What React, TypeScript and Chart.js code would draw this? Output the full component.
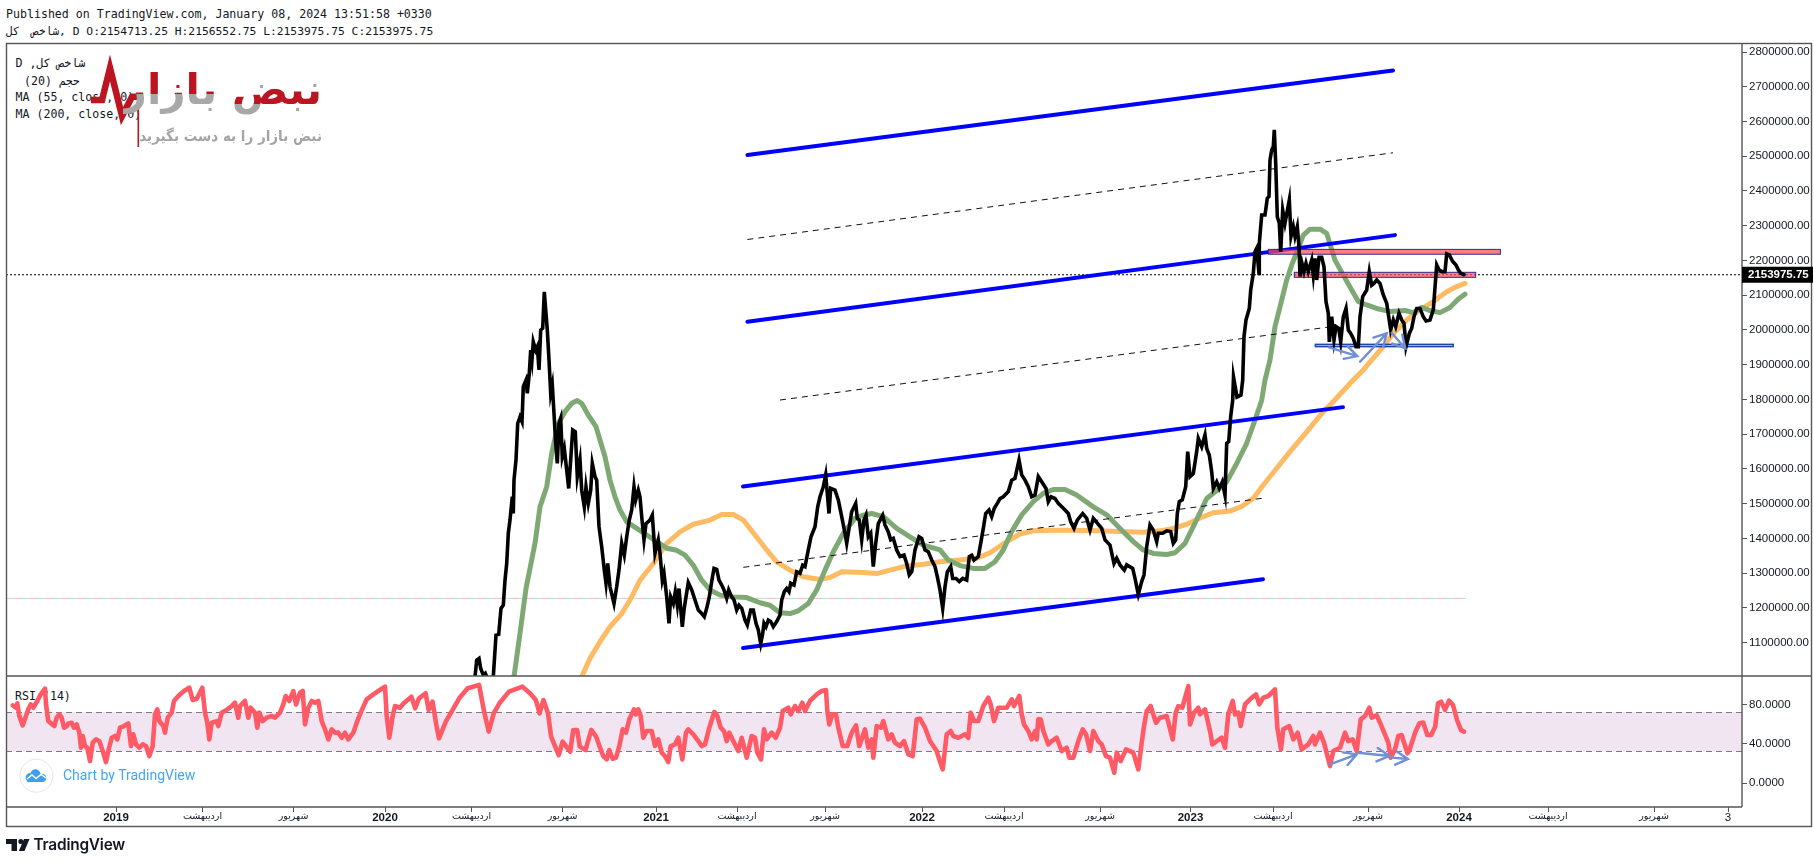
import React, { useEffect, useRef } from "react";
import { Chart, registerables } from "chart.js";

Chart.register(...registerables);

// x = trading session counted from the first bar of 2019; y = index level in thousands
const closeSeries: number[][] = [
[355,959],[359,997],[360.7,1045],[363,1050],[364.7,1021],[367.3,1002],[369.3,1007],[370.7,997],[372.5,985],[376,975],[377.3,997],[380,1117],[382.7,1119],[385,1194],[387.3,1203],[389,1275],[390.7,1323],[392.3,1410],[394,1448],[396.3,1515],[397.3,1467],[398,1563],[400,1621],[401.7,1726],[404,1745],[406,1731],[407.3,1832],[410,1851],[411.3,1813],[413.3,1870],[414.7,1937],[416,1909],[417.3,1961],[419.7,1937],[421.3,1947],[423,1880],[424.7,1995],[426.7,2000],[428.3,2105],[430,2043],[431.3,1995],[433,1909],[434.7,1813],[436.3,1837],[438,1755],[439.7,1669],[441.3,1611],[443,1726],[444.7,1741],[446.3,1630],[448.3,1654],[450.7,1592],[452.7,1539],[454.7,1621],[456.7,1707],[459.3,1702],[461.3,1573],[464,1621],[465.7,1534],[468.3,1486],[470,1544],[472.3,1496],[474.7,1534],[476.3,1611],[479,1573],[480.7,1563],[483,1429],[485.7,1371],[488.3,1304],[490,1266],[491.7,1323],[494,1256],[498,1208],[500.7,1256],[503,1304],[505.7,1381],[508.3,1347],[510.7,1400],[513.3,1448],[515.7,1477],[518,1544],[519.7,1506],[522.3,1534],[524,1515],[525.7,1458],[528,1391],[530,1438],[534,1448],[536.3,1462],[539,1352],[542.3,1391],[544,1352],[546.3,1275],[548,1295],[550.7,1227],[553,1151],[554.7,1227],[557.3,1208],[559.3,1242],[561.3,1203],[563,1251],[566.3,1141],[568,1189],[570,1227],[572.3,1268],[575.7,1247],[579,1218],[582.3,1189],[585.7,1179],[588.3,1170],[590.7,1194],[593.3,1227],[595.7,1271],[598,1309],[600.7,1306],[603,1275],[605.7,1261],[608,1247],[610.7,1223],[612.7,1247],[615.7,1227],[618,1218],[620.7,1189],[623,1203],[625.7,1194],[629,1160],[631.3,1146],[634.7,1189],[637.3,1189],[640,1151],[642.3,1132],[644.7,1093],[646.7,1122],[648,1151],[650,1141],[652.3,1160],[654.7,1156],[657.3,1141],[660.7,1156],[664,1175],[665.7,1218],[668.3,1242],[670.7,1251],[673,1242],[674.7,1266],[678,1261],[680.7,1299],[684,1295],[686.7,1318],[689,1314],[692.3,1362],[695,1400],[699,1429],[701.7,1486],[704,1515],[707.3,1544],[709.7,1578],[711.3,1525],[713,1467],[714.7,1539],[719,1534],[722.3,1506],[725.7,1458],[729,1410],[730.7,1381],[733.3,1429],[735.7,1472],[739.7,1496],[741.3,1453],[743.3,1448],[745.7,1391],[748,1448],[750,1462],[752.3,1400],[754.7,1410],[757.3,1314],[759.7,1381],[762.3,1438],[766.7,1462],[769,1434],[772.3,1414],[774.7,1391],[777.3,1395],[780.7,1362],[784,1343],[788,1347],[790.7,1323],[793.3,1290],[795.7,1299],[799,1362],[803,1400],[805.7,1395],[809,1362],[812.3,1357],[815.7,1333],[819,1314],[821.3,1285],[824,1247],
[826.7,1194],[829,1256],[831.3,1299],[834.7,1314],[836.7,1280],[840,1280],[843.3,1271],[846.7,1280],[850.7,1275],[853.3,1343],[855.7,1347],[858,1333],[862.3,1343],[864.7,1381],[867.3,1424],[869.7,1467],[873,1477],[875.7,1458],[878.3,1482],[881.3,1496],[884,1510],[887.3,1515],[892.3,1530],[895.7,1563],[899,1568],[903,1621],[905.7,1578],[909,1563],[912.3,1544],[915.7,1515],[919,1520],[922.3,1573],[925.7,1558],[930,1539],[932.3,1501],[935,1515],[939,1510],[942.3,1496],[947.3,1482],[952.3,1467],[954.7,1443],[958,1424],[961.3,1448],[966.7,1467],[970.7,1453],[974,1419],[977.3,1453],[981.3,1439],[985.7,1424],[989,1391],[994,1376],[998,1323],[1000.7,1338],[1004,1319],[1008.3,1304],[1010.7,1319],[1016.7,1309],[1019,1280],[1022.3,1234],[1025.7,1271],[1028,1290],[1030.7,1371],[1034,1434],[1037.3,1419],[1040.7,1386],[1042.3,1410],[1046.7,1410],[1050.7,1417],[1054.7,1415],[1057.3,1381],[1059.7,1391],[1061.3,1467],[1063.3,1501],[1066.3,1506],[1069.7,1544],[1071.7,1645],[1074,1573],[1077.3,1582],[1080.7,1645],[1082.3,1683],[1085.7,1659],[1089,1693],[1090.7,1654],[1093.3,1635],[1095.7,1587],[1097.3,1539],[1100.7,1558],[1103.3,1539],[1106.3,1558],[1109,1520],[1110.7,1669],[1112.7,1674],[1114.7,1746],[1116.7,1793],[1117.5,1860],[1121,1802],[1125,1808],
[1126.7,1851],[1128,1976],[1130,2024],[1133.3,2057],[1134.7,2110],[1137.3,2158],[1139,2220],[1140.7,2230],[1143,2158],[1143.3,2244],[1145.7,2326],[1149,2326],[1151.3,2374],[1153,2379],[1154,2484],[1155.7,2513],[1157.3,2523],[1158.3,2571],[1159.7,2475],[1161.3,2321],[1163.3,2302],[1164.7,2220],[1166.7,2340],[1169,2302],[1173.3,2369],[1175,2264],[1177.3,2292],[1179,2264],[1181.3,2292],[1183,2235],[1184,2149],[1186,2187],[1188,2163],[1190,2187],[1192.3,2163],[1195.7,2196],[1197.3,2153],[1199,2201],[1200.7,2139],[1203,2204],[1205.7,2204],[1208,2177],[1210,2077],[1212.3,2043],[1213.3,1961],[1215.7,2033],[1218,1966],[1220,2005],[1222.7,2000],[1224.7,1961],[1227.3,2033],[1230,2057],[1232.3,1995],[1234.7,1985],[1237.3,1971],[1240,1947],[1242.3,1947],[1244,2033],[1246.7,2091],[1250.7,2110],[1253.3,2163],[1255.7,2124],[1258,2129],[1260.7,2139],[1264,2129],[1267.3,2096],[1270.7,2072],[1274.7,1995],[1277.3,2024],[1279.7,2005],[1283,2043],[1285.7,2024],[1288,2014],[1290,1947],[1293.3,1985],[1295.7,2000],[1298,2033],[1300.7,2057],[1304,2057],[1307.3,2033],[1310,2021],[1314,2024],[1317.3,2053],[1320.7,2182],[1323,2168],[1325.7,2163],[1329,2163],[1330.7,2214],[1333.3,2211],[1336.7,2192],[1340,2182],[1342.3,2168],[1344.7,2158],[1348,2153.98],
];

const ma55Series: number[][] = [
[396,980],[398,997],[404,1122],[410,1251],[419,1381],[424,1486],[430.7,1544],[435.7,1640],[442.3,1726],[449,1760],[455.7,1784],[461.3,1792],[465.7,1784],[472.3,1750],[480,1717],[484,1678],[489,1630],[494,1563],[499,1515],[504,1477],[510.7,1443],[520.7,1424],[530.7,1405],[540.7,1386],[550.7,1367],[560.7,1361],[569,1347],[577.3,1318],[585.7,1275],[594,1247],[604,1232],[617.3,1227],[630.7,1225],[644,1210],[654,1203],[664,1181],[674,1179],[682.3,1187],[692.3,1208],[700.7,1247],[709,1304],[717.3,1357],[727.3,1410],[739,1453],[747.3,1462],[755.7,1467],[767.3,1458],[780.7,1424],[794,1400],[807.3,1376],[824,1362],[832.3,1333],[844,1317],[857.3,1309],[869,1309],[879,1328],[887.3,1362],[895.7,1415],[905.7,1463],[917.3,1501],[927.3,1525],[937.3,1536],[949,1536],[960.7,1520],[977.3,1486],[990.7,1463],[1004,1424],[1017.3,1386],[1027.3,1362],[1037.3,1352],[1050.7,1349],[1059,1354],[1069,1381],[1079,1439],[1090.7,1510],[1100.7,1533],[1110.7,1558],[1120.7,1611],[1130.7,1669],[1139,1736],[1145.7,1793],[1149,1851],[1154,1909],[1159,2005],[1165.7,2081],[1170.7,2139],[1175.7,2182],[1182.3,2230],[1187.3,2268],[1194,2285],[1204,2285],[1210.7,2273],[1219,2196],[1227.3,2153],[1235.7,2110],[1242.3,2077],[1250.7,2067],[1260.7,2057],[1274,2048],[1289,2051],[1297.3,2045],[1305.7,2060],[1314,2051],[1324,2045],[1334,2060],[1342.3,2084],[1349,2098],
];

const ma200Series: number[][] = [
[463,975],[465.7,997],[474,1050],[484,1098],[494,1141],[505.7,1179],[514,1218],[524,1275],[537.3,1323],[550.7,1381],[564,1414],[577.3,1436],[594,1448],[605.7,1464],[617.3,1464],[627.3,1448],[639,1405],[650.7,1362],[660.7,1328],[674,1304],[687.3,1285],[704,1277],[714,1283],[725.7,1299],[747.3,1297],[760.7,1294],[774,1304],[790.7,1316],[807.3,1321],[824,1328],[844,1333],[860.7,1338],[874,1354],[890.7,1386],[904,1408],[917.3,1417],[934,1419],[957.3,1419],[980.7,1417],[1004,1415],[1027.3,1413],[1044,1417],[1057.3,1424],[1070.7,1436],[1087.3,1458],[1097.3,1469],[1114,1474],[1125.7,1487],[1137.3,1511],[1147.3,1549],[1160.7,1597],[1174,1645],[1190.7,1702],[1207.3,1760],[1215.7,1784],[1237.3,1851],[1247.3,1880],[1257.3,1914],[1267.3,1947],[1277.3,1985],[1290.7,2024],[1304,2053],[1317.3,2077],[1330.7,2105],[1340.7,2120],[1349,2129],
];

const rsiSeries: number[][] = [
[-103.3,78.6],[-100,76.2],[-98.7,80.7],[-96.7,67.7],[-93.3,58.1],[-90,67.7],[-87.7,74.5],[-85.3,79.6],[-82.7,76.2],[-78.7,83.1],[-75.3,89.9],[-71,95.7],[-70,79.6],[-67.7,62.5],[-63.7,59.1],[-61.7,57.4],[-59.3,66],[-56.7,69.4],[-54.3,66],[-52,55.7],[-49.3,57.4],[-47.7,60.1],[-44.3,60.8],[-42,55.7],[-39.3,59.1],[-36.7,50.6],[-35,35.2],[-33.3,47.2],[-31,36.9],[-28.7,35.2],[-26,21.5],[-23.3,40.3],[-20,43.7],[-16.7,42],[-13.3,31.8],[-10,20.5],[-7.7,31.8],[-4.3,45.4],[-1,47.2],[1.3,43.7],[4,55.7],[8,57.4],[12.3,60.1],[15,36.9],[17.3,48.9],[20,38.6],[23.3,35.2],[26.7,38.6],[30,36.9],[33.3,26.6],[36.7,36.9],[39,69.4],[41.3,74.5],[43.3,62.5],[47.3,57.4],[49,50.6],[51.7,66],[55.7,71.1],[58,83.1],[62.3,88.2],[68,93.3],[73.3,96.7],[76.7,84.1],[80.7,85.4],[86.3,96.7],[89,71.1],[91.3,60.8],[93.3,43.7],[95.7,60.8],[100.7,62.5],[102.3,57.4],[105.7,71.1],[111.3,74.5],[115.7,77.9],[119,81.3],[122.3,66],[124,77.9],[129,83.1],[132.3,66],[134.7,76.2],[139,71.1],[141.3,55.7],[143.3,71.1],[146.7,62.5],[150.7,66],[155.7,67.7],[159,66],[164,71.1],[167.3,79.6],[169.7,88.2],[173.3,83.1],[177.3,93.3],[180,79.6],[184,91.6],[186.7,93.3],[189,59.1],[192.3,76.2],[195.7,83.1],[199,81.3],[202.3,83.1],[205.7,62.5],[209,54],[212.3,43.7],[215.7,54],[219,50.6],[222.3,50.6],[225.7,45.4],[229,50.6],[232.3,43.7],[237.3,50.6],[241.3,62.5],[244.7,71.1],[250.7,84.8],[257.3,89.9],[262.3,93.3],[269,97.8],[270.7,67.7],[273.3,45.4],[276.7,67.7],[279,77.9],[284,76.2],
[287.7,80.7],[295.4,87.5],[299.2,75.6],[303,85.8],[309.6,91],[312.6,73.9],[316.5,82.4],[320.3,58.5],[323,44.8],[329.8,61.9],[335.6,72.2],[343.2,85.8],[351.7,96.1],[363.1,99.5],[368.1,72.2],[372.7,51.7],[377.7,70.4],[383.4,80.7],[393,92.7],[406.4,97.8],[414,91],[419.8,84.1],[423.6,70.4],[427.4,84.1],[432,70.4],[435.1,46.5],[442.7,27.7],[446.6,41.4],[454.2,31.1],[457.3,53.4],[461.1,53.4],[463.8,36.3],[469.5,32.8],[475.3,53.4],[480.2,46.5],
[484,35.2],[487.3,26.6],[490.7,23.2],[493.3,32.8],[496.7,23.9],[500,24.9],[503.3,36.9],[506.7,54],[510,50.6],[513.3,64.3],[518,74.5],[520,69.4],[522.3,74.5],[524.7,67.7],[527.3,45.4],[530.7,52.3],[535.7,52.3],[539,36.9],[542.3,43.7],[545.7,30.1],[549,26.6],[552.3,20.5],[554.7,36.9],[559,38.6],[562.3,45.4],[566.3,23.2],[570,50.6],[572.3,54],[577.3,48.9],[582.3,42],[585.7,36.9],[589,38.6],[593.3,55.7],[598.3,71.8],[601.3,67.7],[604.7,55.7],[608,52.3],[610.7,42],[613.3,50.6],[617.3,42],[622.3,31.8],[625.7,45.4],[630.7,24.9],[635.7,47.2],[639,45.4],[641.3,30.1],[645,23.2],[648,54],[650.7,43.7],[655.7,50.6],[659.7,45.4],[664,55.7],[666.7,72.8],[672.3,76.2],[674.7,69.4],[679,77.9],[682.3,72.8],[686.3,81.3],[689,72.8],[694,83.1],[700.7,89.9],[705.7,93.3],[710,94.3],[711.3,72.8],[713.3,59.1],[716.3,69.4],[720,69.4],[722.3,55.7],[726.7,36.9],[731.3,36.9],[735.7,50.6],[740,58.1],[743.3,36.9],[749,54],[752.3,35.2],[755.7,43.7],[757.3,24.9],[760.7,57.4],[765,55.7],[767.3,62.5],[772.3,43.7],[775.7,48.9],[779,40.3],[784,36.9],[788,42],[792.3,28.4],[796.7,26.6],[800.7,64.3],[804,64.9],[809,55.7],[814,42],[820.7,31.8],[823.3,23.2],[826.7,13],[830.7,48.9],[834.7,52.3],[837.3,47.2],[842.3,45.4],[845.7,47.2],[849,48.9],[852.3,45.4],[854.7,71.1],[858,62.5],[862.3,62.5],[867.3,77.9],[872.3,86.5],[874.7,79.6],[878,62.5],[882.3,76.2],
[884,76.2],[890.7,76.2],[895.7,84.8],[898,77.9],[900.7,83.1],[903.3,88.2],[905.7,69.4],[908,59.1],[912.3,52.3],[915.7,43.7],[919,52.3],[920.7,43.7],[922.3,64.3],[924.7,64.3],[927.3,52.3],[932.3,38.6],[935.7,42],[940.7,45.4],[945.7,31.8],[950.7,35.2],[953.3,24.9],[957.3,24.9],[962.3,42],[966.7,54],[970,48.9],[974,31.8],[977.3,52.3],[982.3,42],[985.7,38.6],[990,26.6],[994,24.9],[998.3,9.5],[1000.7,30.1],[1004.7,21.5],[1010,33.5],[1017.3,30.1],[1022.3,13],[1025.7,40.3],[1028,57.4],[1030.7,72.8],[1034.7,77.9],[1036.7,71.1],[1040,60.8],[1044,66],[1050.7,67.7],[1056.7,43.7],[1059.7,71.1],[1062.3,77.9],[1066.3,76.2],[1072.3,98.4],[1074,59.1],[1078,71.1],[1082.3,76.2],[1084,69.4],[1089,74.5],[1094.7,48.9],[1096.3,38.6],[1105.7,45.4],[1109,35.2],[1112.3,69.4],[1116.7,83.1],[1119,69.4],[1122.3,71.1],[1124.7,57.4],[1129,79.6],[1134,84.8],[1140,89.9],[1143.3,79.6],[1147.3,86.5],[1152.3,88.2],[1159,95],[1161.3,55.7],[1165,33.5],[1167.3,54],[1173.3,57.4],[1177.3,43.7],[1181.7,50.6],[1185.7,33.5],[1192.3,38.6],[1197.3,47.2],[1199,38.6],[1204,50.6],[1208,40.3],[1214,16.4],[1217.3,31.8],[1224,35.2],[1229,50.6],[1232.3,42],[1236.7,43.7],[1240.7,31.8],[1244.7,64.3],[1249,67.7],[1253.3,76.2],[1255.7,66],[1260.7,68.4],[1264,60.8],[1272.3,40.3],[1274.7,24.9],[1279,33.5],[1282.3,47.2],
[1285.6,48.2],[1291.5,29.4],[1293.5,32.8],[1299.4,51.6],[1303.4,60.2],[1307.3,60.9],[1311.3,48.2],[1315.2,48.2],[1319.2,56.8],[1322,80.7],[1325.1,82.4],[1329.1,73.9],[1333,83.4],[1337,79],[1341,63.6],[1344.9,53.4],[1348,51.7],
];

const channelTop: number[][] = [[631.4,2498.6],[1277,2741.5]];
const channelUpperMid: number[][] = [[631.4,2019],[1279,2268]];
const channelLowerMid: number[][] = [[627,1544.8],[1227,1773]];
const channelBottom: number[][] = [[627,1079.7],[1147,1278]];
const dashedTop: number[][] = [[631.4,2255.4],[1277,2505]];
const dashedMid: number[][] = [[664,1793.5],[1213,2003.6]];
const dashedLow: number[][] = [[627.3,1312],[1145.7,1510.5]];
const lastCloseLine: number[][] = [[-110,2153.98],[1626,2153.98]];
const faintLevel: number[][] = [[-110,1222.7],[1350,1222.7]];

// [session start, session end, level low, level high]
const resistanceUpper = [1152.3, 1384.4, 2213, 2227];
const resistanceLower = [1178.3, 1359.7, 2146.6, 2161];
const supportZone = [1199.3, 1337.3, 1947, 1953.8];

// [session start, level start, session end, level end]
const priceArrows: number[][] = [
  [1213, 1945, 1241.3, 1920],
  [1244, 1903.7, 1270.7, 1985.4],
  [1275.7, 1987, 1289.3, 1942],
];
const rsiArrows: number[][] = [
  [1214, 18.1, 1240.7, 28.4],
  [1242.3, 30, 1273.3, 26.7],
  [1276, 25, 1292, 23.6],
];

const priceTicks = [2800,2700,2600,2500,2400,2300,2200,2100,2000,1900,1800,1700,1600,1500,1400,1300,1200,1100];
const rsiTicks = [80, 40, 0];
const rsiBand = [31.5, 71.5];
const timeTickSessions = [0,86.5,177.5,269,355.5,446.6,540,621,709,806,888,984,1074.5,1157,1252,1343,1432,1538,1612];
const timeTickLabels = ["2019","اردیبهشت","شهریور","2020","اردیبهشت","شهریور","2021","اردیبهشت","شهریور","2022","اردیبهشت","شهریور","2023","اردیبهشت","شهریور","2024","اردیبهشت","شهریور","3"];

// TradingView prints its axis labels slightly below the true level
const PRICE_LABEL_NUDGE = 5;
const RSI_LABEL_NUDGE = 1;

const LAST_CLOSE_LABEL = "2153975.75";
const BORDER = "#555555";

const pts = (s: number[][]) => s.map(([x, y]) => ({ x, y }));

function arrow(ctx: CanvasRenderingContext2D, x0: number, y0: number, x1: number, y1: number) {
  const a = Math.atan2(y1 - y0, x1 - x0);
  const h = 14;
  ctx.beginPath();
  ctx.moveTo(x0, y0);
  ctx.lineTo(x1, y1);
  ctx.moveTo(x1 - h * Math.cos(a - 0.5), y1 - h * Math.sin(a - 0.5));
  ctx.lineTo(x1, y1);
  ctx.lineTo(x1 - h * Math.cos(a + 0.5), y1 - h * Math.sin(a + 0.5));
  ctx.stroke();
}

const decorPlugin = {
  id: "decor",
  beforeDatasetsDraw(chart: any) {
    const { ctx, scales } = chart;
    const { x, yRsi } = scales;
    ctx.save();
    const top = yRsi.getPixelForValue(rsiBand[1]);
    const bottom = yRsi.getPixelForValue(rsiBand[0]);
    ctx.fillStyle = "#f0e5f1";
    ctx.fillRect(x.left, top, x.right - x.left, bottom - top);
    ctx.strokeStyle = "#787b86";
    ctx.lineWidth = 1;
    ctx.setLineDash([6, 4]);
    for (const v of [top, bottom]) {
      ctx.beginPath();
      ctx.moveTo(x.left, Math.round(v) + 0.5);
      ctx.lineTo(x.right, Math.round(v) + 0.5);
      ctx.stroke();
    }
    ctx.restore();
  },
  beforeDatasetDraw(chart: any, args: any) {
    if (chart.data.datasets[args.index].label !== "close") return;
    const { ctx, scales } = chart;
    const { x, y } = scales;
    ctx.save();
    const box = (r: number[], fill: string, stroke: string, lw: number) => {
      const l = x.getPixelForValue(r[0]);
      const w = x.getPixelForValue(r[1]) - l;
      const t = y.getPixelForValue(r[3]);
      const h = y.getPixelForValue(r[2]) - t;
      ctx.fillStyle = fill;
      ctx.fillRect(l, t, w, h);
      ctx.strokeStyle = stroke;
      ctx.lineWidth = lw;
      ctx.strokeRect(l, t, w, h);
    };
    box(resistanceUpper, "rgba(255,75,85,0.72)", "#2f2a8c", 1);
    box(resistanceLower, "rgba(255,75,85,0.72)", "#2f2a8c", 1);
    box(supportZone, "rgba(60,100,200,0.5)", "#1f45a8", 1.4);
    ctx.restore();
  },
  afterDatasetsDraw(chart: any) {
    const { ctx, scales } = chart;
    const { x, y, yRsi } = scales;
    ctx.save();
    ctx.strokeStyle = "#7090d5";
    ctx.lineWidth = 2.4;
    ctx.lineCap = "round";
    for (const a of priceArrows) {
      arrow(ctx, x.getPixelForValue(a[0]), y.getPixelForValue(a[1]), x.getPixelForValue(a[2]), y.getPixelForValue(a[3]));
    }
    for (const a of rsiArrows) {
      arrow(ctx, x.getPixelForValue(a[0]), yRsi.getPixelForValue(a[1]), x.getPixelForValue(a[2]), yRsi.getPixelForValue(a[3]));
    }
    ctx.restore();
  },
  afterDraw(chart: any) {
    const { ctx, scales } = chart;
    const { x, y, yRsi } = scales;
    ctx.save();
    // frame of the panes
    ctx.strokeStyle = BORDER;
    ctx.lineWidth = 1.4;
    ctx.strokeRect(6.5, 43.5, 1805, 783);
    ctx.beginPath();
    ctx.moveTo(6, yRsi.top); ctx.lineTo(x.right + 70, yRsi.top);
    ctx.moveTo(6, yRsi.bottom); ctx.lineTo(x.right, yRsi.bottom);
    ctx.moveTo(x.right, y.top); ctx.lineTo(x.right, yRsi.bottom);
    ctx.stroke();

    // last price label
    const py = y.getPixelForValue(2153.98);
    ctx.fillStyle = "#000000";
    ctx.fillRect(x.right, py - 8, 71, 16);
    ctx.fillStyle = "#ffffff";
    ctx.font = "bold 11.5px 'Liberation Sans'";
    ctx.textAlign = "left";
    ctx.textBaseline = "middle";
    ctx.fillText(LAST_CLOSE_LABEL, x.right + 6, py + 0.5);

    // publisher mark (heart-beat stroke)
    ctx.strokeStyle = "#bb1522";
    ctx.lineJoin = "miter";
    ctx.lineWidth = 6.5;
    ctx.beginPath();
    ctx.moveTo(91, 100); ctx.lineTo(102, 100); ctx.lineTo(110, 68); ctx.lineTo(122, 116); ctx.lineTo(132, 96.7); ctx.lineTo(139, 96.7);
    ctx.stroke();
    ctx.lineWidth = 1.6;
    ctx.beginPath();
    ctx.moveTo(138.3, 96); ctx.lineTo(138.3, 147);
    ctx.stroke();

    // badge circle + cloud
    ctx.fillStyle = "#ffffff";
    ctx.strokeStyle = "#e3e5ea";
    ctx.lineWidth = 1;
    ctx.beginPath();
    ctx.arc(36.4, 775.7, 16.5, 0, Math.PI * 2);
    ctx.fill();
    ctx.stroke();
    ctx.fillStyle = "#3aa0ef";
    ctx.beginPath();
    ctx.moveTo(26.5, 782);
    ctx.arc(30, 777.5, 4.4, Math.PI * 0.7, Math.PI * 1.5);
    ctx.arc(35.5, 774.5, 5.2, Math.PI * 1.05, Math.PI * 1.9);
    ctx.arc(42, 778, 4.3, Math.PI * 1.4, Math.PI * 0.4);
    ctx.closePath();
    ctx.fill();
    ctx.strokeStyle = "#ffffff";
    ctx.lineWidth = 1.5;
    ctx.beginPath();
    ctx.moveTo(27, 779); ctx.lineTo(32, 775); ctx.lineTo(36, 778.5); ctx.lineTo(41, 774.5); ctx.lineTo(46, 778);
    ctx.stroke();

    // footer brand mark
    ctx.fillStyle = "#131722";
    ctx.fillRect(6, 839, 11, 5);
    ctx.fillRect(11.5, 839, 5.5, 12);
    ctx.beginPath();
    ctx.arc(20.8, 841.5, 2.5, 0, Math.PI * 2);
    ctx.fill();
    ctx.beginPath();
    ctx.moveTo(24, 839); ctx.lineTo(29.5, 839); ctx.lineTo(24.5, 851); ctx.lineTo(18.8, 851);
    ctx.closePath();
    ctx.fill();
    ctx.restore();
  },
};

const monoFont = "'DejaVu Sans Mono', monospace";
const place = (left: number, top: number, extra: React.CSSProperties = {}): React.CSSProperties => ({
  position: "absolute", left, top, whiteSpace: "pre", lineHeight: "16px", color: "#131722", ...extra,
});
const clipText = (gradient: string): React.CSSProperties => ({
  display: "inline-block", background: gradient, WebkitBackgroundClip: "text", backgroundClip: "text", color: "transparent",
});

export default function App() {
  const ref = useRef<HTMLCanvasElement | null>(null);
  useEffect(() => {
    document.body.style.margin = "0";
    document.documentElement.style.overflow = "hidden";
    const line = (label: string, data: number[][], o: any, yAxisID = "y") => ({
      label, data: pts(data), yAxisID, xAxisID: "x", pointRadius: 0, tension: 0, fill: false,
      borderJoinStyle: "round", borderCapStyle: "round", ...o,
    });
    const chart = new Chart(ref.current as HTMLCanvasElement, {
      type: "line",
      data: {
        datasets: [
          line("close", closeSeries, { borderColor: "#000000", borderWidth: 3.6, borderJoinStyle: "miter", order: 0 }),
          line("MA 55", ma55Series, { borderColor: "#7fa974", borderWidth: 5, order: 2 }),
          line("MA 200", ma200Series, { borderColor: "#fdbb63", borderWidth: 5, order: 3 }),
          line("channel top", channelTop, { borderColor: "#0000ff", borderWidth: 4, order: 1 }),
          line("channel upper middle", channelUpperMid, { borderColor: "#0000ff", borderWidth: 4, order: 1 }),
          line("channel lower middle", channelLowerMid, { borderColor: "#0000ff", borderWidth: 4, order: 1 }),
          line("channel bottom", channelBottom, { borderColor: "#0000ff", borderWidth: 4, order: 1 }),
          line("median top", dashedTop, { borderColor: "#111111", borderWidth: 1, borderDash: [6, 5], borderCapStyle: "butt", order: 1 }),
          line("median middle", dashedMid, { borderColor: "#111111", borderWidth: 1, borderDash: [6, 5], borderCapStyle: "butt", order: 1 }),
          line("median low", dashedLow, { borderColor: "#111111", borderWidth: 1, borderDash: [6, 5], borderCapStyle: "butt", order: 1 }),
          line("last close", lastCloseLine, { borderColor: "#000000", borderWidth: 1, borderDash: [2, 2], borderCapStyle: "butt", order: 5 }),
          line("level a", faintLevel, { borderColor: "#b6e3cc", borderWidth: 1, borderDash: [8, 8], borderCapStyle: "butt", order: 6 }),
          line("level b", faintLevel, { borderColor: "#f7b5bb", borderWidth: 1, borderDash: [8, 8], borderDashOffset: 8, borderCapStyle: "butt", order: 6 }),
          line("RSI", rsiSeries, { borderColor: "#ff5a65", borderWidth: 4.6, borderJoinStyle: "round", order: 0 }, "yRsi"),
        ],
      },
      options: {
        animation: false,
        responsive: false,
        devicePixelRatio: 1,
        parsing: false,
        normalized: true,
        spanGaps: true,
        events: [],
        layout: { autoPadding: false, padding: { left: 6, right: 2, top: 43, bottom: 37 } },
        plugins: { legend: { display: false }, tooltip: { enabled: false }, title: { display: false } },
        scales: {
          x: {
            type: "linear", position: "bottom", min: -110, max: 1626,
            border: { display: false },
            grid: { display: true, drawOnChartArea: false, drawTicks: true, tickLength: 5, color: BORDER },
            afterBuildTicks: (s: any) => { s.ticks = timeTickSessions.map((value) => ({ value })); },
            afterFit: (s: any) => { s.height = 19; },
            ticks: {
              autoSkip: false, maxRotation: 0, minRotation: 0, padding: -1, color: "#131722",
              callback: (_v: any, i: number) => timeTickLabels[i],
              font: (c: any) => /^\d{4}$/.test(timeTickLabels[c.index] || "")
                ? { family: "'Liberation Sans'", size: 11.5, weight: "bold" }
                : /^\d$/.test(timeTickLabels[c.index] || "")
                  ? { family: "'Liberation Sans'", size: 11.5, weight: "normal" }
                  : { family: "'DejaVu Sans'", size: 9.5, weight: "normal" },
            },
          },
          y: {
            type: "linear", position: "right", stack: "panes", stackWeight: 633, min: 999.3, max: 2820.9,
            border: { display: false },
            grid: { display: true, drawOnChartArea: false, drawTicks: true, tickLength: 5, color: BORDER },
            afterBuildTicks: (s: any) => { s.ticks = priceTicks.map((v) => ({ value: v - PRICE_LABEL_NUDGE })); },
            afterFit: (s: any) => { s.width = 70; },
            ticks: {
              autoSkip: false, padding: 2, color: "#131722", font: { family: "'Liberation Sans'", size: 11.5 },
              callback: (_v: any, i: number) => `${priceTicks[i] * 1000}.00`,
            },
          },
          yRsi: {
            type: "linear", position: "right", stack: "panes", stackWeight: 131, min: -25.6, max: 108.7,
            border: { display: false },
            grid: { display: true, drawOnChartArea: false, drawTicks: true, tickLength: 5, color: BORDER },
            afterBuildTicks: (s: any) => { s.ticks = rsiTicks.map((v) => ({ value: v - RSI_LABEL_NUDGE })); },
            afterFit: (s: any) => { s.width = 70; },
            ticks: {
              autoSkip: false, padding: 2, color: "#131722", font: { family: "'Liberation Sans'", size: 11.5 },
              callback: (_v: any, i: number) => rsiTicks[i].toFixed(4),
            },
          },
        },
      } as any,
      plugins: [decorPlugin],
    } as any);
    return () => chart.destroy();
  }, []);

  return (
    <div style={{ position: "relative", width: 1814, height: 863, overflow: "hidden", background: "#ffffff", fontFamily: monoFont, fontSize: 11.6 }}>
      <div style={place(6, 6)}>Published on TradingView.com, January 08, 2024 13:51:58 +0330</div>
      <div style={place(6, 24, { fontSize: 11.3, wordSpacing: 0 })}><span style={{ wordSpacing: 5.5 }}>{"شاخص کل,"}</span>{" D O:2154713.25 H:2156552.75 L:2153975.75 C:2153975.75"}</div>
      <div style={place(15.5, 54.5)}>{"D ,شاخص کل"}</div>
      <div style={place(17, 72.5)}>{" (20) حجم"}</div>
      <div style={place(15.5, 88.5)}>MA (55, close, 0)</div>
      <div style={place(15.5, 105.5)}>MA (200, close, 0)</div>
      <div style={place(15, 688)}>RSI (14)</div>
      <canvas ref={ref} width={1814} height={863} style={{ position: "absolute", left: 0, top: 0, width: 1814, height: 863 }} />
      <div dir="rtl" style={place(0, 58, { left: "auto", right: 1814 - 322, lineHeight: "64px", fontFamily: "'DejaVu Sans'", fontWeight: "bold", fontSize: 42, color: "#a8a8a8" })}>
        <span style={clipText("linear-gradient(#a8a8a8 48%, #bb1522 48%, #bb1522 72%, #a8a8a8 72%)")}>نبض</span>{" "}
        <span style={clipText("linear-gradient(#bb1522 56%, #a8a8a8 56%)")}>بازار</span>
      </div>
      <div dir="rtl" style={place(0, 126, { left: "auto", right: 1814 - 322, lineHeight: "20px", fontFamily: "'DejaVu Sans'", fontWeight: "bold", fontSize: 15, color: "#a4a4a4", transform: "scaleX(0.9)", transformOrigin: "right center" })}>نبض بازار را به دست بگیرید</div>
      <div style={place(63, 766, { fontFamily: "Roboto", fontSize: 14, lineHeight: "18px", color: "#42a5f5" })}>Chart by TradingView</div>
      <div style={place(33.5, 835, { fontFamily: "Inter", fontWeight: 600, fontSize: 15.4, lineHeight: "20px", color: "#131722", letterSpacing: -0.2 })}>TradingView</div>
    </div>
  );
}
